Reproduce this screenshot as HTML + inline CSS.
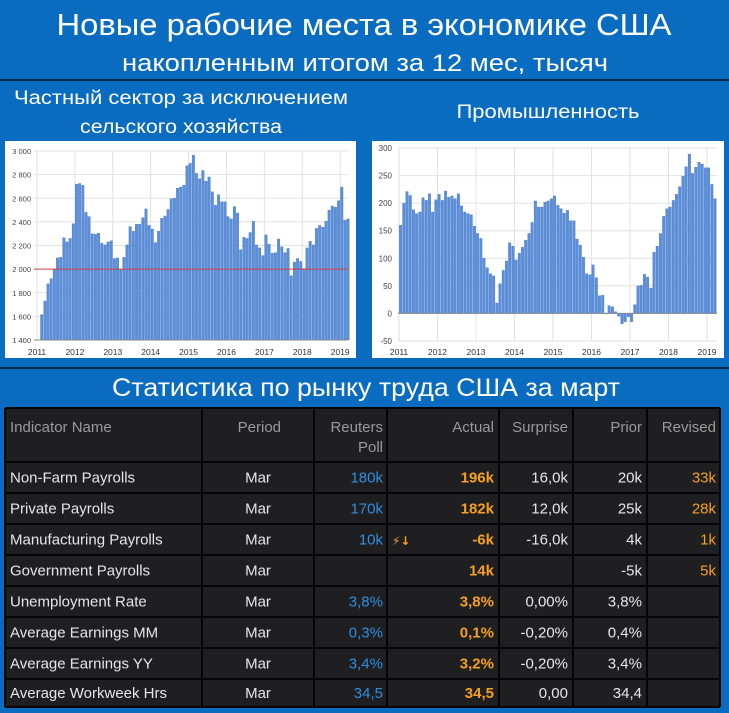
<!DOCTYPE html>
<html><head><meta charset="utf-8"><style>
html,body{margin:0;padding:0;background:#0a6cc0;}
svg{display:block;font-family:"Liberation Sans",sans-serif;}
</style></head><body>
<svg id="page" width="729" height="713" viewBox="0 0 729 713" xmlns="http://www.w3.org/2000/svg">
<rect x="0" y="0" width="729" height="713" fill="#0a6cc0"/>
<text x="364" y="35" text-anchor="middle" fill="#fff" font-size="31" textLength="615" lengthAdjust="spacingAndGlyphs">Новые рабочие места в экономике США</text>
<text x="365" y="71" text-anchor="middle" fill="#fff" font-size="24" textLength="486" lengthAdjust="spacingAndGlyphs">накопленным итогом за 12 мес, тысяч</text>
<rect x="0" y="79" width="729" height="2" fill="#0a2a4a"/>
<text x="181" y="104" text-anchor="middle" fill="#fff" font-size="19" textLength="334" lengthAdjust="spacingAndGlyphs">Частный сектор за исключением</text>
<text x="181" y="133" text-anchor="middle" fill="#fff" font-size="19" textLength="202" lengthAdjust="spacingAndGlyphs">сельского хозяйства</text>
<text x="548" y="118" text-anchor="middle" fill="#fff" font-size="19" textLength="183" lengthAdjust="spacingAndGlyphs">Промышленность</text>
<rect x="5" y="141" width="351" height="217" fill="#fff"/>
<rect x="372" y="141" width="352" height="217" fill="#fff"/>
<g id="leftChart"></g>
<g id="rightChart"></g>
<rect x="0" y="367" width="729" height="2" fill="#0a2a4a"/>
<text x="366" y="396" text-anchor="middle" fill="#fff" font-size="25" textLength="508" lengthAdjust="spacingAndGlyphs">Статистика по рынку труда США за март</text>
<g id="table"></g>
</svg>
<script>
const NS='http://www.w3.org/2000/svg';
// ---- Left chart data (Feb 2011 - Mar 2019) ----
const leftStartMonth = 1; // months after Jan 2011
const leftValues = [1615,1730,1875,1920,1995,2095,2100,2265,2230,2260,2385,
2720,2725,2710,2480,2445,2300,2295,2305,2220,2205,2230,2240,
2090,2095,2000,2100,2205,2360,2320,2380,2380,2435,2510,2370,
2340,2225,2320,2430,2450,2505,2595,2600,2685,2695,2710,2875,
2895,2965,2810,2765,2835,2745,2780,2655,2540,2630,2570,2570,
2445,2425,2530,2475,2165,2270,2260,2310,2405,2205,2180,2115,
2290,2210,2135,2140,2255,2190,2140,2175,1945,2060,2090,2065,
2005,2180,2235,2205,2345,2370,2355,2405,2500,2535,2525,2580,
2695,2415,2425];
const leftTicks = [1400,1600,1800,2000,2200,2400,2600,2800,3000];
const leftTickLabels = ['1 400','1 600','1 800','2 000','2 200','2 400','2 600','2 800','3 000'];
const leftRefLine = 2000;
// ---- Right chart data (Jan 2011 - Mar 2019) ----
const rightStartMonth = 0;
const rightValues = [160,200,221,214,188,181,184,210,205,217,184,206,
216,205,222,211,213,208,217,195,184,181,179,158,
145,136,100,83,72,68,19,54,78,95,128,122,
97,109,120,133,145,165,204,193,193,202,204,208,
213,196,190,182,187,168,168,135,124,102,72,70,
88,65,32,33,0,14,12,3,-5,-19,-15,-6,
-15,16,50,51,71,66,46,111,122,145,176,190,
193,205,216,230,249,266,289,254,265,274,271,264,
264,234,208];
const rightTicks = [-50,0,50,100,150,200,250,300];
const rightTickLabels = ['-50','0','50','100','150','200','250','300'];
const years = [2011,2012,2013,2014,2015,2016,2017,2018,2019];

function el(tag, attrs, parent){const e=document.createElementNS(NS,tag);for(const k in attrs)e.setAttribute(k,attrs[k]);parent.appendChild(e);return e;}

// Left scales
const xL = t => 37 + (t-2011)*37.9;
const yL = v => 151 + (3000-v)*(189/1600);
// Right scales
const xR = t => 399 + (t-2011)*38.5;
const yR = v => 148 + (300-v)*(193/350);

function drawChart(g, xs, ys, vals, start, ticks, labels, left, right, base, labelX, fs){
  ticks.forEach((t,i)=>{
    const ln=el('line',{x1:left,x2:right,y1:ys(t),y2:ys(t),stroke:'#e2e2e2','stroke-width':1},g);
    
    
    const tx=el('text',{x:labelX,y:ys(t)+3,'text-anchor':'end','font-size':fs,fill:'#444'},g);
    tx.textContent=labels[i];
    
    
  });
  years.forEach(yv=>{
    const ln=el('line',{x1:xs(yv),x2:xs(yv),y1:ys(ticks[ticks.length-1]),y2:ys(ticks[0]),stroke:'#e2e2e2','stroke-width':1},g);
    
    
    const tx=el('text',{x:xs(yv),y:355,'text-anchor':'middle','font-size':8.5,fill:'#333'},g);
    tx.textContent=String(yv);
    
    
  });
  const slot = xs(2011+1/12)-xs(2011);
  vals.forEach((v,i)=>{
    const m=start+i;
    const x0=xs(2011+m/12)+slot*0.1;
    const y1=ys(v), y0=ys(base);
    const r=el('rect',{x:x0,y:Math.min(y1,y0),width:slot*0.8,height:Math.max(0.5,Math.abs(y0-y1)),fill:'#5b8fd9',stroke:'#3f72c0','stroke-width':0.3},g);
    
    
  });
}
const gL=document.getElementById('leftChart');
drawChart(gL,xL,yL,leftValues,leftStartMonth,leftTicks,leftTickLabels,34,348,1400,31,7.5);
const ref=el('line',{x1:34,x2:348,y1:yL(leftRefLine),y2:yL(leftRefLine),stroke:'#d04040','stroke-width':1},gL);


const axL=el('line',{x1:34,x2:348,y1:yL(1400),y2:yL(1400),stroke:'#888','stroke-width':1},gL);


const gR=document.getElementById('rightChart');
drawChart(gR,xR,yR,rightValues,rightStartMonth,rightTicks,rightTickLabels,398,717,0,392,8);
const axR=el('line',{x1:398,x2:717,y1:yR(0),y2:yR(0),stroke:'#888','stroke-width':1},gR);



// ---- Table ----
const T=document.getElementById('table');
const colEdges=[5,202,314,387,499,573,647,720];
const rowEdges=[408,462,493,524,555,586,617,648,679,707];
const bg=el('rect',{x:5,y:408,width:715,height:299,fill:'#1f1f21'},T);


rowEdges.forEach(y=>{const l=el('line',{x1:5,x2:720,y1:y,y2:y,stroke:'#050505','stroke-width':2},T);

});
colEdges.forEach(x=>{const l=el('line',{x1:x,x2:x,y1:408,y2:707,stroke:'#050505','stroke-width':2},T);

});
function txt(s,x,y,anchor,color,bold,name){const t=el('text',{x:x,y:y,'text-anchor':anchor,'font-size':15,fill:color},T);
 if(bold)t.setAttribute('font-weight','bold');t.textContent=s;
 
 return t;}
const hc='#9a9a9a';
txt('Indicator Name',10,432,'start',hc,false,'header-indicator-name');
txt('Period',281,432,'end',hc,false,'header-period');
txt('Reuters',383,432,'end',hc,false,'header-reuters');
txt('Poll',383,452,'end',hc,false,'header-poll');
txt('Actual',494,432,'end',hc,false,'header-actual');
txt('Surprise',568,432,'end',hc,false,'header-surprise');
txt('Prior',642,432,'end',hc,false,'header-prior');
txt('Revised',716,432,'end',hc,false,'header-revised');
const rows=[
['Non-Farm Payrolls','180k','196k','16,0k','20k','33k'],
['Private Payrolls','170k','182k','12,0k','25k','28k'],
['Manufacturing Payrolls','10k','-6k','-16,0k','4k','1k'],
['Government Payrolls','','14k','','-5k','5k'],
['Unemployment Rate','3,8%','3,8%','0,00%','3,8%',''],
['Average Earnings MM','0,3%','0,1%','-0,20%','0,4%',''],
['Average Earnings YY','3,4%','3,2%','-0,20%','3,4%',''],
['Average Workweek Hrs','34,5','34,5','0,00','34,4','']];
rows.forEach((r,i)=>{
  const y=(rowEdges[i+1]+rowEdges[i+2])/2+5;
  txt(r[0],10,y,'start','#e6e6e6',false,'indicator-name');
  txt('Mar',258,y,'middle','#e6e6e6',false,'period-cell');
  txt(r[1],383,y,'end','#2f8ee0',false,'poll-cell');
  txt(r[2],494,y,'end','#f5a020',true,'actual-cell');
  txt(r[3],568,y,'end','#e6e6e6',false,'surprise-cell');
  txt(r[4],642,y,'end','#e6e6e6',false,'prior-cell');
  txt(r[5],716,y,'end','#f5a020',false,'revised-cell');
});
const icon=txt('⚡↓',392,545,'start','#f5a020',true,'surprise-down-icon');
icon.setAttribute('font-family','DejaVu Sans, sans-serif');
icon.setAttribute('font-size','12');
</script>
</body></html>
